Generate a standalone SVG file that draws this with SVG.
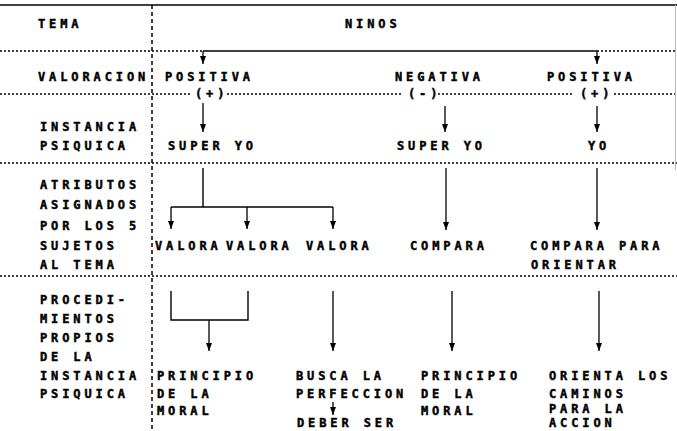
<svg xmlns="http://www.w3.org/2000/svg" width="677" height="431" viewBox="0 0 677 431">
<defs>
<marker id="a" viewBox="0 0 8 6" markerWidth="8" markerHeight="6" refX="8" refY="3" orient="auto" markerUnits="userSpaceOnUse">
<path d="M0,0 L8,3 L0,6 Z" fill="#000"/>
</marker>
<style>
text{font-family:"DejaVu Sans Mono","Liberation Mono",monospace;font-weight:bold;font-size:12px;letter-spacing:3.9px;fill:#000;stroke:#000;stroke-width:0.45}
.dot{stroke:#000;stroke-width:1.3;stroke-dasharray:2 2;fill:none}
.vdot{stroke:#000;stroke-width:1.5;stroke-dasharray:4 3;fill:none}
.sol{stroke:#000;stroke-width:1.4;fill:none}
.arr{stroke:#000;stroke-width:1.3;fill:none;marker-end:url(#a)}
</style>
</defs>
<rect width="677" height="431" fill="#fff"/>
<g id="grid">
<line class="sol" x1="0" y1="5" x2="677" y2="5" stroke-width="2"/>
<line class="vdot" x1="152" y1="5" x2="152" y2="431"/>
<line class="dot" x1="0" y1="51" x2="203" y2="51"/>
<line class="dot" x1="597" y1="51" x2="677" y2="51"/>
<line class="dot" x1="0" y1="94" x2="190" y2="94"/>
<line class="dot" x1="227" y1="94" x2="402" y2="94"/>
<line class="dot" x1="438" y1="94" x2="573" y2="94"/>
<line class="dot" x1="614" y1="94" x2="677" y2="94"/>
<line class="dot" x1="0" y1="163" x2="677" y2="163"/>
<line class="dot" x1="0" y1="276" x2="677" y2="276"/>
<line x1="675.5" y1="5" x2="675.5" y2="170" stroke="#bbb" stroke-width="1"/>
</g>
<g id="labels">
<text x="38" y="28">TEMA</text>
<text x="38" y="81">VALORACION</text>
<text x="40" y="131">INSTANCIA</text>
<text x="40" y="150">PSIQUICA</text>
<text x="40" y="189">ATRIBUTOS</text>
<text x="40" y="209">ASIGNADOS</text>
<text x="40" y="230">POR LOS 5</text>
<text x="40" y="250">SUJETOS</text>
<text x="40" y="269">AL TEMA</text>
<text x="40" y="304">PROCEDI-</text>
<text x="40" y="323">MIENTOS</text>
<text x="40" y="342">PROPIOS</text>
<text x="40" y="361">DE LA</text>
<text x="40" y="380">INSTANCIA</text>
<text x="40" y="398">PSIQUICA</text>
</g>
<g id="ninos"><text x="345" y="28">NINOS</text></g>
<g id="positiva1"><text x="165" y="81">POSITIVA</text><text x="195" y="98">(+)</text></g>
<g id="negativa"><text x="395" y="81">NEGATIVA</text><text x="408" y="98">(-)</text></g>
<g id="positiva2"><text x="547" y="81">POSITIVA</text><text x="580" y="98">(+)</text></g>
<g id="superyo1"><text x="168" y="150">SUPER YO</text></g>
<g id="superyo2"><text x="397" y="150">SUPER YO</text></g>
<g id="yo"><text x="588" y="150">YO</text></g>
<g id="valora1"><text x="155" y="250">VALORA</text></g>
<g id="valora2"><text x="226" y="250">VALORA</text></g>
<g id="valora3"><text x="306" y="250">VALORA</text></g>
<g id="compara"><text x="410" y="250">COMPARA</text></g>
<g id="compara-para"><text x="530" y="250">COMPARA PARA</text><text x="531" y="269">ORIENTAR</text></g>
<g id="principio1"><text x="157" y="380">PRINCIPIO</text><text x="157" y="398">DE LA</text><text x="157" y="415">MORAL</text></g>
<g id="busca"><text x="296" y="380">BUSCA LA</text><text x="296" y="398">PERFECCION</text></g>
<g id="deber"><text x="297" y="427">DEBER SER</text></g>
<g id="principio2"><text x="421" y="380">PRINCIPIO</text><text x="421" y="398">DE LA</text><text x="421" y="415">MORAL</text></g>
<g id="orienta"><text x="549" y="380">ORIENTA LOS</text><text x="549" y="398">CAMINOS</text><text x="549" y="413">PARA LA</text><text x="549" y="427">ACCION</text></g>
<g id="connectors">
<line class="sol" x1="203" y1="51" x2="597" y2="51"/>
<line class="arr" x1="203" y1="51" x2="203" y2="64"/>
<line class="arr" x1="597" y1="51" x2="597" y2="64"/>
<line class="arr" x1="203" y1="103" x2="203" y2="132"/>
<line class="arr" x1="445" y1="106" x2="445" y2="132"/>
<line class="arr" x1="597" y1="106" x2="597" y2="132"/>
<line class="sol" x1="203" y1="168" x2="203" y2="207"/>
<line class="sol" x1="171" y1="207" x2="333" y2="207"/>
<line class="arr" x1="171" y1="207" x2="171" y2="229"/>
<line class="arr" x1="247" y1="207" x2="247" y2="229"/>
<line class="arr" x1="333" y1="207" x2="333" y2="229"/>
<line class="arr" x1="446" y1="168" x2="446" y2="230"/>
<line class="arr" x1="597" y1="168" x2="597" y2="230"/>
<path class="sol" d="M171,291 V320 H248 V291"/>
<line class="arr" x1="209" y1="320" x2="209" y2="351"/>
<line class="arr" x1="333" y1="291" x2="333" y2="351"/>
<line class="arr" x1="452" y1="291" x2="452" y2="351"/>
<line class="arr" x1="599" y1="291" x2="599" y2="351"/>
<line class="arr" x1="333" y1="402" x2="333" y2="415"/>
</g>
</svg>
